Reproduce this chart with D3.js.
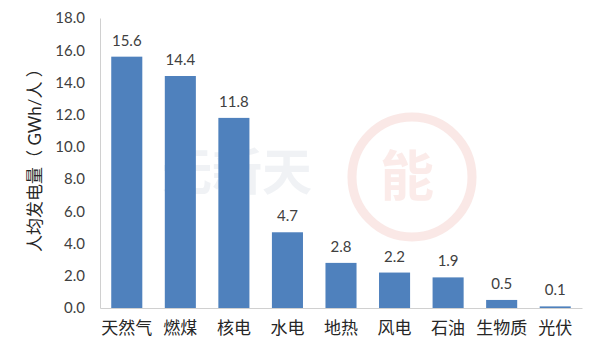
<!DOCTYPE html>
<html>
<head>
<meta charset="utf-8">
<script src="https://cdn.jsdelivr.net/npm/d3@7"></script>
<style>
  body { margin: 0; background: #fff; }
  text { font-family: Lato, "Noto Sans CJK SC", sans-serif; }
</style>
</head>
<body>
<div class="chart"></div>
<script>
const categories = ['天然气', '燃煤', '核电', '水电', '地热', '风电', '石油', '生物质', '光伏'];
const values = [15.6, 14.4, 11.8, 4.7, 2.8, 2.2, 1.9, 0.5, 0.1];
const yTicks = [0, 2, 4, 6, 8, 10, 12, 14, 16, 18];

function renderBarChart() {
    const margin = ({top: 18, right: 18, bottom: 52, left: 100});
    const width = 600 - margin.left - margin.right;
    const height = 360 - margin.top - margin.bottom;

    const svg = d3.select('.chart').append('svg')
        .attr('width', 600)
        .attr('height', 360);

    // watermark
    const wm = svg.append('g').attr('opacity', 0.55);
    wm.append('circle')
        .attr('cx', 412).attr('cy', 177).attr('r', 60)
        .attr('fill', 'none')
        .attr('stroke', '#f6d6d2')
        .attr('stroke-width', 9);
    wm.append('text')
        .attr('x', 162).attr('y', 190)
        .attr('font-size', 50)
        .attr('font-weight', 'bold')
        .attr('fill', '#e4e8ee')
        .text('无新天');
    wm.append('text')
        .attr('x', 380).attr('y', 196)
        .attr('font-size', 54)
        .attr('font-weight', 'bold')
        .attr('fill', '#f8dcd8')
        .text('能');

    const g = svg.append('g')
        .attr('transform', `translate(${margin.left},${margin.top})`);

    const xScale = d3.scaleBand()
        .domain(categories)
        .range([0, width])
        .paddingInner(0.42)
        .paddingOuter(0.21);

    const yScale = d3.scaleLinear()
        .domain([0, 18])
        .range([height, 0]);

    const yAxis = d3.axisLeft(yScale)
        .tickValues(yTicks)
        .tickFormat(d3.format('.1f'))
        .tickSize(0)
        .tickPadding(15);

    g.append('g')
        .attr('class', 'axis y-axis')
        .call(yAxis)
        .call(a => a.select('.domain').attr('stroke', '#d0d0d0'))
        .call(a => a.selectAll('text').attr('font-size', 15).attr('fill', '#404040')
            .style('font-family', 'Lato, "Noto Sans CJK SC", sans-serif'));

    const xAxis = d3.axisBottom(xScale).tickSize(0).tickPadding(14);

    g.selectAll('rect.bar')
        .data(values)
        .enter()
        .append('rect')
        .attr('class', 'bar')
        .attr('x', (d, i) => xScale(categories[i]))
        .attr('y', d => yScale(d))
        .attr('width', xScale.bandwidth())
        .attr('height', d => height - yScale(d))
        .attr('fill', '#4f81bd');

    g.append('g')
        .attr('class', 'axis x-axis')
        .attr('transform', `translate(0, ${height})`)
        .call(xAxis)
        .call(a => a.select('.domain').attr('stroke', '#d0d0d0'))
        .call(a => a.selectAll('text').attr('font-size', 17).attr('fill', '#262626')
            .style('font-family', 'Lato, "Noto Sans CJK SC", sans-serif'));

    // value labels
    g.selectAll('text.val')
        .data(values)
        .enter()
        .append('text')
        .attr('class', 'val')
        .attr('x', (d, i) => xScale(categories[i]) + xScale.bandwidth() / 2)
        .attr('y', d => yScale(d) - 11)
        .attr('text-anchor', 'middle')
        .attr('font-size', 15)
        .attr('fill', '#404040')
        .text(d => d3.format('.1f')(d));

    svg.append('text')
        .attr('transform', 'translate(41,156) rotate(-90)')
        .attr('text-anchor', 'middle')
        .attr('font-size', 17)
        .attr('fill', '#262626')
        .text('人均发电量（ GWh/人 ）');
}

renderBarChart();
</script>
</body>
</html>
